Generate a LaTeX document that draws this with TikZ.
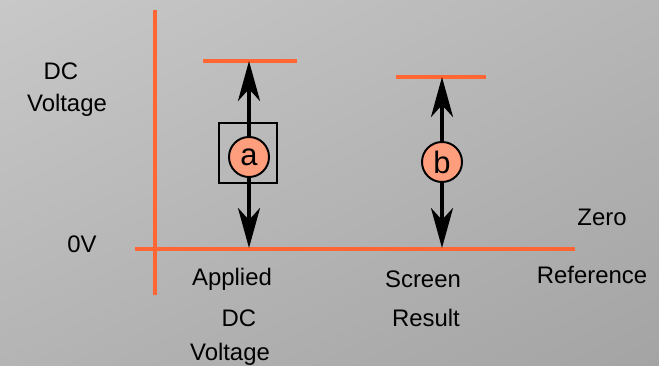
\documentclass[tikz,border=0pt]{standalone}
\usepackage{fontspec}
\setmainfont{Liberation Sans}
\usetikzlibrary{arrows.meta,shadings}

\definecolor{refline}{HTML}{FF6633}
\definecolor{markfill}{HTML}{FF9E7C}
\definecolor{bgul}{RGB}{200,200,200}
\definecolor{bgur}{RGB}{182,182,182}
\definecolor{bgll}{RGB}{180,180,180}
\definecolor{bglr}{RGB}{164,164,164}

\begin{document}
\begin{tikzpicture}[
  x=0.025cm, y=-0.025cm,
  axis/.style={
    draw=refline,
    line width=3pt
  },
  level/.style={
    draw=refline,
    line width=3pt
  },
  marker/.style={
    circle,
    draw,
    fill=markfill,
    line width=1.4pt,
    minimum size=1.0cm,
    inner sep=0pt,
    font=\fontsize{22}{24}\selectfont
  },
  span/.style={
    -{Stealth[length=1.0cm,width=0.55cm,inset=0.3cm]},
    line width=3pt
  },
  label/.style={
    inner sep=1pt,
    font=\fontsize{17}{20}\selectfont
  }
]

\shade[upper left=bgul, upper right=bgur, lower left=bgll, lower right=bglr]
  (0,0) rectangle (659,366);
\path[use as bounding box] (0,0) rectangle (659,366);

% axes
\draw[axis] (155,10) -- (155,295);
\draw[axis] (135,249) -- (575,249);

% levels
\coordinate (atop) at (249,61);
\coordinate (abot) at (249,248);
\coordinate (btop) at (442,77);
\coordinate (bbot) at (442,248);
\draw[level] (203,61) -- (297,61);
\draw[level] (396,77) -- (486,77);

\node[draw, line width=0.8pt, minimum width=1.45cm, minimum height=1.5cm]
  (abox) at (248,153) {};
\node[marker] (a) at (249,157) {a};
\node[marker] (b) at (442,162) {b};

\draw[span] (a) -- (atop);
\draw[span] (a) -- (abot);
\draw[span] (b) -- (btop);
\draw[span] (b) -- (bbot);

\node[label] at (61,71) {DC};
\node[label] at (67,105) {Voltage};
\node[label] at (82,244) {0V};

\node[label] at (232,279) {Applied};
\node[label] at (239,318) {DC};
\node[label] at (230,354) {Voltage};

\node[label] at (423,279) {Screen};
\node[label] at (426,318) {Result};

\node[label] at (602,217) {Zero};
\node[label] at (592,275) {Reference};

\end{tikzpicture}
\end{document}
